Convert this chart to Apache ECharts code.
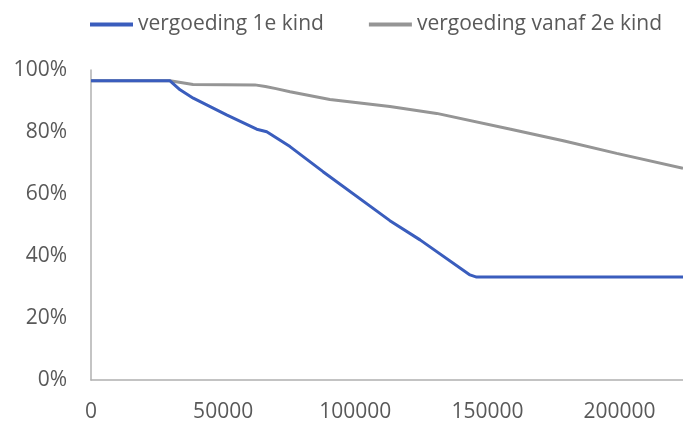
<!DOCTYPE html>
<html>
<head>
<meta charset="utf-8">
<script src="https://cdn.jsdelivr.net/npm/echarts@6/dist/echarts.min.js"></script>
<style>html,body{margin:0;padding:0;background:#fff}#c{width:683px;height:424px}</style>
</head>
<body>
<div id="c"></div>
<script>
var seriesNames = ['vergoeding 1e kind', 'vergoeding vanaf 2e kind'];
var income1 = [0, 29900, 33700, 38700, 51300, 62700, 66500, 75300, 87800, 113100, 124500, 143400, 145900, 224000];
var rate1   = [96.5, 96.5, 93.6, 90.9, 85.5, 80.9, 80.1, 75.3, 67.2, 51.4, 45.2, 33.9, 33.2, 33.2];
var income2 = [0, 29900, 38600, 62000, 66000, 70000, 75300, 90400, 113100, 130800, 158800, 178700, 198900, 224000];
var rate2   = [96.5, 96.5, 95.3, 95.2, 94.7, 94.0, 93.0, 90.5, 88.2, 86.0, 80.9, 77.2, 73.1, 68.3];
var yTicks = [0, 20, 40, 60, 80, 100];

function pairs(xs, ys) { return xs.map(function (x, i) { return [x, ys[i]]; }); }

var chart = echarts.init(document.getElementById('c'));
var font = 'Open Sans';
chart.setOption({
  animation: false,
  legend: {
    top: 9, left: 85,
    itemWidth: 43, itemHeight: 4, itemGap: 45,
    icon: 'rect',
    textStyle: { fontFamily: font, fontSize: 21, color: '#595959' },
    data: seriesNames
  },
  grid: { left: 91, right: 0, top: 70, bottom: 44 },
  xAxis: {
    type: 'value', min: 0, max: 224000, interval: 50000,
    axisLine: { show: true, lineStyle: { color: '#b0b0b0', width: 1.5 } },
    axisTick: { show: false },
    splitLine: { show: false },
    axisLabel: { showMaxLabel: false, margin: 22, fontFamily: font, fontSize: 21, color: '#595959',
      formatter: function (v) { return String(v); } }
  },
  yAxis: {
    type: 'value', min: 0, max: 100, interval: 20,
    axisLine: { show: true, lineStyle: { color: '#b0b0b0', width: 1.5 } },
    axisTick: { show: false },
    splitLine: { show: false },
    axisLabel: { margin: 24, fontFamily: font, fontSize: 21, color: '#595959',
      formatter: function (v) { return yTicks.indexOf(v) >= 0 ? v + '%' : ''; } }
  },
  series: [
    { name: seriesNames[0], type: 'line', data: pairs(income1, rate1), showSymbol: false, symbol: 'none',
      lineStyle: { color: '#3a5dbd', width: 3 }, itemStyle: { color: '#3a5dbd' }, z: 3 },
    { name: seriesNames[1], type: 'line', data: pairs(income2, rate2), showSymbol: false, symbol: 'none',
      lineStyle: { color: '#959595', width: 3 }, itemStyle: { color: '#959595' }, z: 2 }
  ]
});
</script>
</body>
</html>
